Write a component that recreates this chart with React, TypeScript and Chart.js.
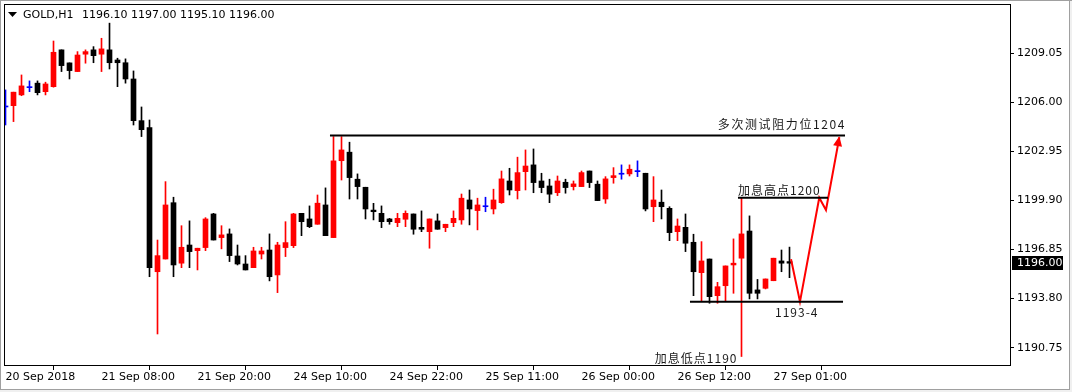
import React, { useEffect, useRef } from "react";
import { Chart, registerables } from "chart.js";

Chart.register(...registerables);

// ---- OHLC data (H1 candles, index 0 = 20 Sep 2018 20:00) ----
const opens = [
  1205.71, 1205.79, 1206.46, 1206.91, 1207.19, 1206.66, 1206.97, 1209.26, 1208.45, 1207.91,
  1208.99, 1209.26, 1208.99, 1209.26, 1208.63, 1208.46, 1207.45, 1204.86, 1204.43, 1195.47,
  1196.26, 1199.76, 1196.0, 1197.13, 1196.78, 1196.97, 1199.06, 1197.59, 1197.82, 1196.45,
  1195.95, 1195.72, 1196.57, 1196.82, 1195.27, 1196.97, 1197.09, 1199.1, 1198.75, 1198.42,
  1199.62, 1197.59, 1202.37, 1202.9, 1201.22, 1200.72, 1199.3, 1199.1, 1198.75, 1198.52,
  1198.73, 1199.06, 1198.23, 1197.96, 1198.63, 1198.21, 1198.52, 1198.69, 1199.93, 1199.27,
  1199.51, 1199.37, 1199.76, 1201.11, 1200.51, 1201.69, 1202.11, 1201.11, 1200.8, 1200.38,
  1201.03, 1200.76, 1200.76, 1201.73, 1200.91, 1199.99, 1201.32, 1201.53, 1201.55, 1201.69,
  1201.59, 1199.51, 1199.79, 1199.41, 1197.96, 1198.23, 1197.3, 1195.41, 1196.26, 1193.98,
  1194.6, 1195.89, 1196.31, 1198.0, 1194.34, 1194.44, 1194.91, 1196.14, 1196.1,
];
const highs = [
  1206.77, 1206.63, 1207.7, 1207.33, 1207.33, 1207.25, 1209.81, 1209.26, 1208.45, 1209.15,
  1209.26, 1209.46, 1209.98, 1210.92, 1208.74, 1208.7, 1207.95, 1205.71, 1204.9, 1197.44,
  1201.07, 1200.1, 1198.33, 1198.63, 1196.93, 1198.83, 1199.1, 1198.33, 1198.13, 1197.13,
  1196.47, 1196.99, 1196.99, 1197.82, 1197.3, 1198.58, 1199.1, 1199.1, 1199.56, 1200.24,
  1200.68, 1203.87, 1203.87, 1203.52, 1201.55, 1200.72, 1199.72, 1199.56, 1198.79, 1199.1,
  1199.25, 1199.06, 1199.25, 1198.75, 1199.06, 1198.42, 1199.25, 1200.3, 1200.55, 1200.04,
  1200.1, 1200.6, 1201.73, 1201.9, 1202.59, 1203.04, 1203.1, 1201.59, 1201.22, 1201.42,
  1201.22, 1201.11, 1201.73, 1201.73, 1201.11, 1201.38, 1201.94, 1202.11, 1202.11, 1202.36,
  1201.59, 1201.38, 1200.55, 1199.51, 1198.75, 1199.06, 1197.8, 1197.34, 1196.26, 1194.81,
  1195.83, 1197.51, 1200.05, 1198.94, 1194.99, 1195.02, 1196.31, 1196.82, 1197.0,
];
const lows = [
  1204.59, 1204.8, 1206.41, 1206.66, 1206.46, 1206.46, 1206.94, 1207.91, 1207.45, 1207.91,
  1208.43, 1208.46, 1207.91, 1208.07, 1206.97, 1207.19, 1204.59, 1203.87, 1195.16, 1191.6,
  1196.26, 1195.16, 1195.72, 1195.72, 1195.58, 1196.78, 1197.44, 1196.89, 1196.1, 1195.89,
  1195.58, 1195.72, 1196.26, 1194.9, 1194.17, 1196.41, 1196.97, 1197.71, 1198.21, 1198.42,
  1197.71, 1197.59, 1201.17, 1199.99, 1199.99, 1198.75, 1198.69, 1198.21, 1198.42, 1198.27,
  1198.27, 1197.8, 1197.96, 1196.93, 1198.11, 1197.96, 1198.27, 1198.42, 1198.38, 1198.07,
  1199.2, 1199.06, 1199.72, 1200.24, 1199.99, 1200.55, 1200.38, 1200.38, 1199.76, 1200.2,
  1200.35, 1200.55, 1200.76, 1200.7, 1199.89, 1199.72, 1200.97, 1201.22, 1201.42, 1201.38,
  1199.25, 1198.58, 1198.75, 1197.4, 1197.4, 1196.72, 1193.98, 1193.61, 1193.51, 1193.51,
  1193.61, 1194.13, 1190.2, 1193.78, 1193.78, 1194.4, 1194.91, 1195.47, 1195.1,
];
const closes = [
  1205.71, 1206.63, 1207.02, 1206.91, 1206.6, 1207.14, 1209.11, 1208.28, 1207.97, 1208.94,
  1209.15, 1208.9, 1209.32, 1208.46, 1208.46, 1207.45, 1204.86, 1204.3, 1195.72, 1196.47,
  1199.62, 1195.89, 1196.99, 1196.72, 1196.93, 1198.75, 1197.44, 1197.76, 1196.47, 1195.95,
  1195.58, 1196.76, 1196.76, 1195.16, 1197.13, 1197.28, 1199.06, 1198.58, 1198.27, 1199.73,
  1197.71, 1202.36, 1203.04, 1201.32, 1200.76, 1199.37, 1199.2, 1198.58, 1198.58, 1198.79,
  1199.1, 1198.11, 1198.11, 1198.75, 1198.11, 1198.42, 1198.79, 1200.04, 1199.37, 1199.62,
  1199.51, 1199.93, 1201.24, 1200.55, 1201.63, 1202.04, 1201.01, 1200.7, 1200.29, 1201.11,
  1200.7, 1200.93, 1201.63, 1201.01, 1199.89, 1201.24, 1201.44, 1201.53, 1201.84, 1201.69,
  1199.37, 1199.93, 1199.51, 1197.9, 1198.31, 1197.24, 1195.47, 1196.14, 1193.92, 1194.54,
  1195.83, 1196.0, 1197.82, 1194.13, 1194.13, 1195.02, 1196.31, 1196.0, 1196.0,
];

// ---- axis labels ----
const timeLabels = [
  "20 Sep 2018", "21 Sep 08:00", "21 Sep 20:00", "24 Sep 10:00", "24 Sep 22:00",
  "25 Sep 11:00", "26 Sep 00:00", "26 Sep 12:00", "27 Sep 01:00",
];
const timeLabelIndex = [0, 12, 24, 36, 48, 60, 72, 84, 96];
const priceTicks = [1190.75, 1193.8, 1196.85, 1199.9, 1202.95, 1206.0, 1209.05];

// ---- header ----
const symbolTitle = "GOLD,H1";
const titleQuote = [1196.1, 1197.0, 1195.1, 1196.0];
const lastPrice = 1196.0;

// ---- drawn objects (data units: candle index, price) ----
const resistanceLevel = 1203.93;
const resistanceSpan = [40.56, 104.94];
const hikeHighLevel = 1200.07;
const hikeHighSpan = [91.56, 102.81];
const supportLevel = 1193.61;
const supportSpan = [85.56, 104.69];
const pathX = [98.19, 99.31, 101.72, 102.56, 104.23];
const pathY = [1196.25, 1193.61, 1200.07, 1199.31, 1203.83];
const noteTexts = ["多次测试阻力位1204", "加息高点1200", "1193-4", "加息低点1190"];

const BULL = "#ff0000";
const BEAR = "#000000";
const DOJI = "#0000ff";

function candleColor(i: number) {
  if (closes[i] > opens[i]) return BULL;
  if (closes[i] < opens[i]) return BEAR;
  return DOJI;
}

const AXIS_FONT = { family: "'DejaVu Sans'", size: 11 };

export default function App() {
  const ref = useRef<HTMLCanvasElement | null>(null);

  useEffect(() => {
    document.body.style.margin = "0";
    const canvas = ref.current;
    if (!canvas) return;

    const idx = opens.map((_, i) => i);
    const colors = idx.map(candleColor);

    const overlayPlugin = {
      id: "overlay",
      beforeDraw(chart: any) {
        const { ctx, width, height } = chart;
        ctx.save();
        ctx.fillStyle = "#ffffff";
        ctx.fillRect(0, 0, width, height);
        ctx.fillStyle = "#f0f0f0";
        ctx.fillRect(0, 389, width, height - 389);
        ctx.fillRect(1069, 0, width - 1069, height);
        ctx.fillStyle = "#a0a0a0";
        ctx.fillRect(0, 0, width, 1);
        ctx.fillRect(0, 0, 1, 389);
        ctx.fillRect(0, 389, 1070, 1);
        ctx.fillRect(1069, 0, 1, 390);
        ctx.restore();
      },
      afterDraw(chart: any) {
        const { ctx, chartArea } = chart;
        const xs = chart.scales.x;
        const ys = chart.scales.y;
        ctx.save();
        // frame
        ctx.strokeStyle = "#000";
        ctx.lineWidth = 1;
        ctx.strokeRect(
          Math.round(chartArea.left) + 0.5,
          Math.round(chartArea.top) + 0.5,
          Math.round(chartArea.right - chartArea.left),
          Math.round(chartArea.bottom - chartArea.top) - 1
        );

        // arrow head at the end of the red path
        const n = pathX.length;
        const tx = xs.getPixelForValue(pathX[n - 1]);
        const ty = ys.getPixelForValue(pathY[n - 1]) - 1;
        const fx = xs.getPixelForValue(pathX[n - 2]);
        const fy = ys.getPixelForValue(pathY[n - 2]);
        const ang = Math.atan2(ty - fy, tx - fx);
        const L = 10, W = 4.5;
        ctx.fillStyle = BULL;
        ctx.beginPath();
        ctx.moveTo(tx, ty);
        ctx.lineTo(tx - L * Math.cos(ang) + W * Math.sin(ang), ty - L * Math.sin(ang) - W * Math.cos(ang));
        ctx.lineTo(tx - L * Math.cos(ang) - W * Math.sin(ang), ty - L * Math.sin(ang) + W * Math.cos(ang));
        ctx.closePath();
        ctx.fill();

        // notes
        ctx.fillStyle = "#1a1a1a";
        ctx.font = "12px 'Noto Sans CJK SC'";
        ctx.textBaseline = "alphabetic";
        (ctx as any).letterSpacing = "1.6px";
        ctx.textAlign = "right";
        ctx.fillText(noteTexts[0], xs.getPixelForValue(resistanceSpan[1]) + 1, ys.getPixelForValue(resistanceLevel) - 7);
        (ctx as any).letterSpacing = "1px";
        ctx.textAlign = "left";
        ctx.fillText(noteTexts[1], xs.getPixelForValue(hikeHighSpan[0]), ys.getPixelForValue(hikeHighLevel) - 3);
        ctx.fillText(noteTexts[2], xs.getPixelForValue(96.19), ys.getPixelForValue(supportLevel) + 15);
        ctx.textAlign = "right";
        ctx.fillText(noteTexts[3], xs.getPixelForValue(91.5), ys.getPixelForValue(lows[92]) + 6);
        (ctx as any).letterSpacing = "0px";

        // header
        ctx.fillStyle = "#000";
        ctx.beginPath();
        ctx.moveTo(8, 12);
        ctx.lineTo(17, 12);
        ctx.lineTo(12.5, 17);
        ctx.closePath();
        ctx.fill();
        ctx.font = "11px 'DejaVu Sans'";
        ctx.textAlign = "left";
        ctx.textBaseline = "middle";
        ctx.fillText(symbolTitle, 23, 15);
        ctx.fillText(titleQuote.map((v) => v.toFixed(2)).join(" "), 82, 15);

        // last price box
        const py = Math.round(ys.getPixelForValue(lastPrice));
        ctx.fillStyle = "#000";
        ctx.fillRect(Math.round(chartArea.right) + 2, py - 7, 51, 14);
        ctx.fillStyle = "#fff";
        ctx.fillText(lastPrice.toFixed(2), Math.round(chartArea.right) + 7, py + 0.5);
        ctx.restore();
      },
    };

    const lineDs = (data: any[], color: string) => ({
      type: "line" as const,
      data,
      borderColor: color,
      borderWidth: 2,
      pointRadius: 0,
      tension: 0,
      fill: false,
      order: 0,
    });

    const chart = new Chart(canvas, {
      type: "bar",
      data: {
        datasets: [
          {
            type: "bar",
            data: idx.map((i) => ({ x: i, y: [lows[i], highs[i]] })) as any,
            backgroundColor: colors,
            barThickness: 1,
            grouped: false,
            borderWidth: 0,
            order: 3,
          } as any,
          {
            type: "bar",
            data: idx.map((i) => ({ x: i, y: [opens[i], closes[i]] })) as any,
            backgroundColor: colors,
            barThickness: 5,
            minBarLength: 1,
            grouped: false,
            borderWidth: 0,
            order: 2,
          } as any,
          lineDs(resistanceSpan.map((x) => ({ x, y: resistanceLevel })), "#000"),
          lineDs(hikeHighSpan.map((x) => ({ x, y: hikeHighLevel })), "#000"),
          lineDs(supportSpan.map((x) => ({ x, y: supportLevel })), "#000"),
          lineDs(pathX.map((x, k) => ({ x, y: pathY[k] })), BULL),
        ] as any,
      },
      options: {
        animation: false,
        responsive: false,
        events: [],
        layout: { padding: { left: 4, top: 4, right: 0, bottom: 0 } },
        plugins: { legend: { display: false }, tooltip: { enabled: false }, title: { display: false } },
        scales: {
          x: {
            type: "linear",
            min: -0.1875,
            max: 125.5625,
            offset: false,
            grid: { display: true, drawOnChartArea: false, drawTicks: true, tickLength: 4, color: "#000" },
            border: { display: false },
            ticks: {
              autoSkip: false,
              maxRotation: 0,
              minRotation: 0,
              align: "start",
              padding: 1,
              color: "#000",
              font: AXIS_FONT,
              callback: (v: any) => {
                const k = timeLabelIndex.indexOf(Number(v));
                return k >= 0 ? timeLabels[k] : "";
              },
            },
            afterBuildTicks: (s: any) => {
              s.ticks = timeLabelIndex.map((v) => ({ value: v }));
            },
            afterFit: (s: any) => {
              s.height = 26;
              s.paddingLeft = 0;
              s.paddingRight = 0;
            },
          },
          y: {
            type: "linear",
            position: "right",
            min: 1189.61,
            max: 1212.11,
            grid: { display: true, drawOnChartArea: false, drawTicks: true, tickLength: 4, color: "#000" },
            border: { display: false },
            ticks: {
              autoSkip: false,
              padding: 3,
              color: "#000",
              font: AXIS_FONT,
              callback: (v: any) => Number(v).toFixed(2),
            },
            afterBuildTicks: (s: any) => {
              s.ticks = priceTicks.map((v) => ({ value: v }));
            },
            afterFit: (s: any) => {
              s.width = 62;
              s.paddingTop = 0;
              s.paddingBottom = 0;
            },
          },
        },
      } as any,
      plugins: [overlayPlugin],
    });

    return () => chart.destroy();
  }, []);

  return (
    <canvas ref={ref} width={1072} height={392} style={{ display: "block", width: 1072, height: 392 }} />
  );
}
